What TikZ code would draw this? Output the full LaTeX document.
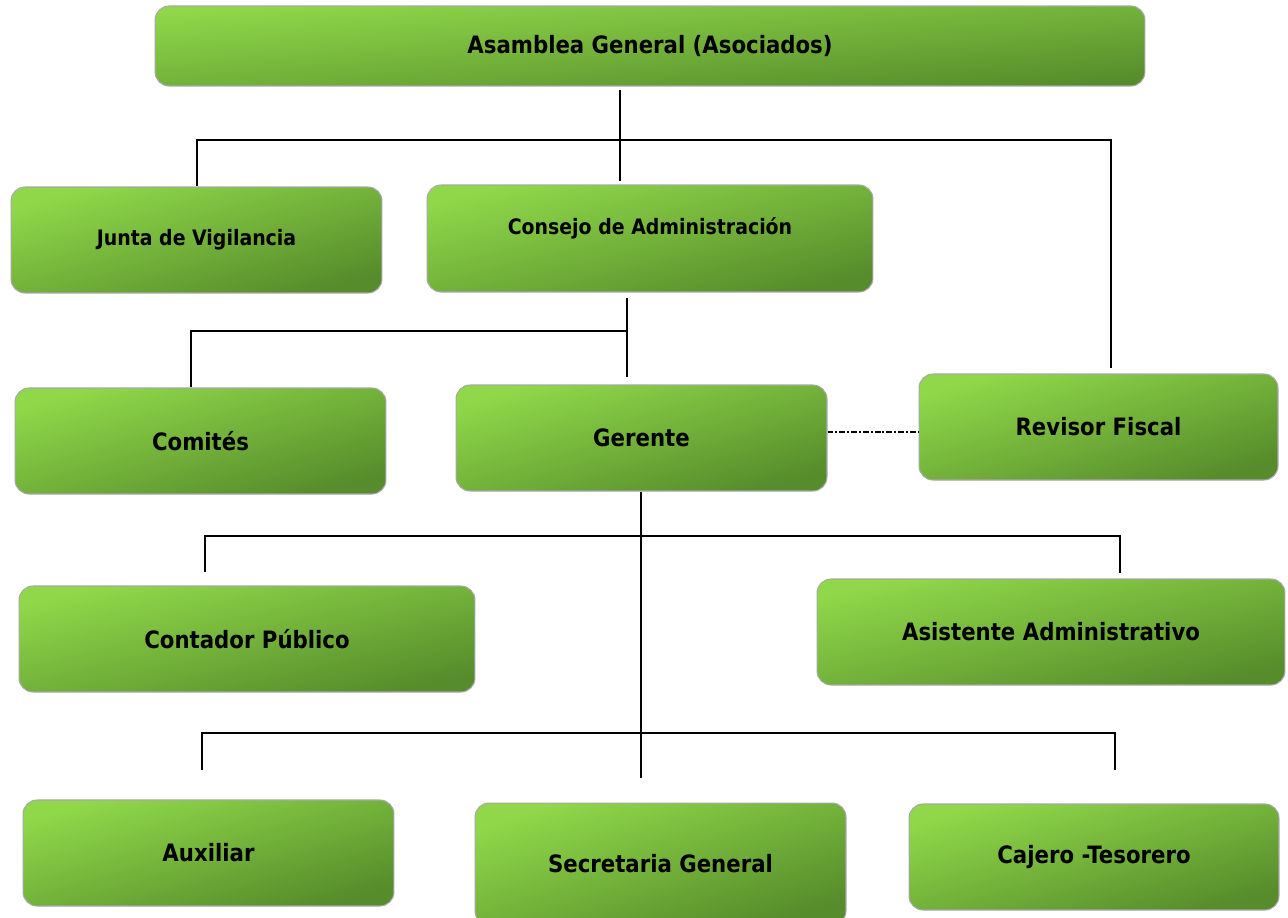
\documentclass[tikz,border=0pt]{standalone}
\usepackage{fontspec}
\setmainfont[FakeStretch=0.89]{DejaVu Sans}
\usepackage{tikz}

\definecolor{verdeclaro}{HTML}{90D84A}
\definecolor{verdemedio}{HTML}{7DC03E}
\definecolor{verdeoscuro}{HTML}{568C2B}
\definecolor{borde}{HTML}{A8A8A8}
\newcommand{\letragrande}{\fontsize{13.6}{16}\selectfont\bfseries}
\newcommand{\letrachica}{\fontsize{12.1}{14}\selectfont\bfseries}

\begin{document}
\begin{tikzpicture}[x=0.02cm, y=-0.02cm,
    caja/.style={draw=borde, line width=0.6pt, rounded corners=8pt,
      top color=verdeclaro, middle color=verdemedio, bottom color=verdeoscuro, shading angle=16,
      inner sep=0pt, minimum height=2.12cm, font=\letragrande},
    linea/.style={line width=0.7pt, black},
    rayapunto/.style={linea, line width=0.8pt, dash pattern=on 3.4pt off 1.1pt on 1.1pt off 1.1pt}]
  \useasboundingbox (0,0) rectangle (1288,917);

  % cajas
  \node [caja, minimum width=19.8cm, minimum height=1.6cm, shading angle=4.6] (asamblea) at (650,46) {Asamblea General (Asociados)};
  \node [caja, minimum width=7.42cm, font=\letrachica] (junta) at (196.5,240) {Junta de Vigilancia};
  \node [caja, minimum width=8.92cm, minimum height=2.14cm, shading angle=13.5, font=\letrachica] (consejo) at (650,238.5) {\raisebox{0.52cm}{Consejo de Administración}};
  \node [caja, minimum width=7.42cm] (comites) at (200.5,441) {Comités};
  \node [caja, minimum width=7.42cm] (gerente) at (641.5,438) {Gerente};
  \node [caja, minimum width=7.18cm, shading angle=16.5] (revisor) at (1098.5,427) {Revisor Fiscal};
  \node [caja, minimum width=9.12cm, shading angle=13.1] (contador) at (247,639) {Contador Público};
  \node [caja, minimum width=9.36cm, shading angle=12.8] (asistente) at (1051,632) {Asistente Administrativo};
  \node [caja, minimum width=7.42cm] (auxiliar) at (208.5,853) {Auxiliar};
  \node [caja, minimum width=7.42cm, minimum height=2.44cm, shading angle=18] (secretaria) at (660.5,864) {Secretaria General};
  \node [caja, minimum width=7.4cm] (cajero) at (1094,857) {Cajero -Tesorero};

  % puntos de las lineas
  \coordinate (t1) at (620,140);
  \coordinate (j1) at (197,140);
  \coordinate (j2) at (1111,140);
  \coordinate (t2) at (627,331);
  \coordinate (c1) at (191,331);
  \coordinate (g1) at (641,536);
  \coordinate (k1) at (205,536);
  \coordinate (k2) at (1120,536);
  \coordinate (m1) at (202,733);
  \coordinate (m2) at (1115,733);

  % lineas
  \draw [linea, shorten <=2pt, shorten >=2pt] (asamblea.south -| t1) -- (consejo.north -| t1);
  \draw [linea, shorten >=3.4pt] (junta.north -| j1) |- (j2) -- (revisor.north -| j2);
  \draw [linea, shorten <=3.4pt, shorten >=4pt] (consejo.south -| t2) -- (gerente.north -| t2);
  \draw [linea] (t2) -| (comites.north -| c1);
  \draw [rayapunto] ([yshift=3.5pt]gerente.east) -- ([yshift=3.5pt]gerente.east -| revisor.west);
  \draw [linea, shorten >=14pt] (gerente.south -| g1) -- (secretaria.north -| g1);
  \draw [linea, shorten <=7.4pt, shorten >=3.4pt] (contador.north -| k1) |- (k2) -- (asistente.north -| k2);
  \draw [linea, shorten <=17pt, shorten >=19.3pt] (auxiliar.north -| m1) |- (m2) -- (cajero.north -| m2);
\end{tikzpicture}
\end{document}
